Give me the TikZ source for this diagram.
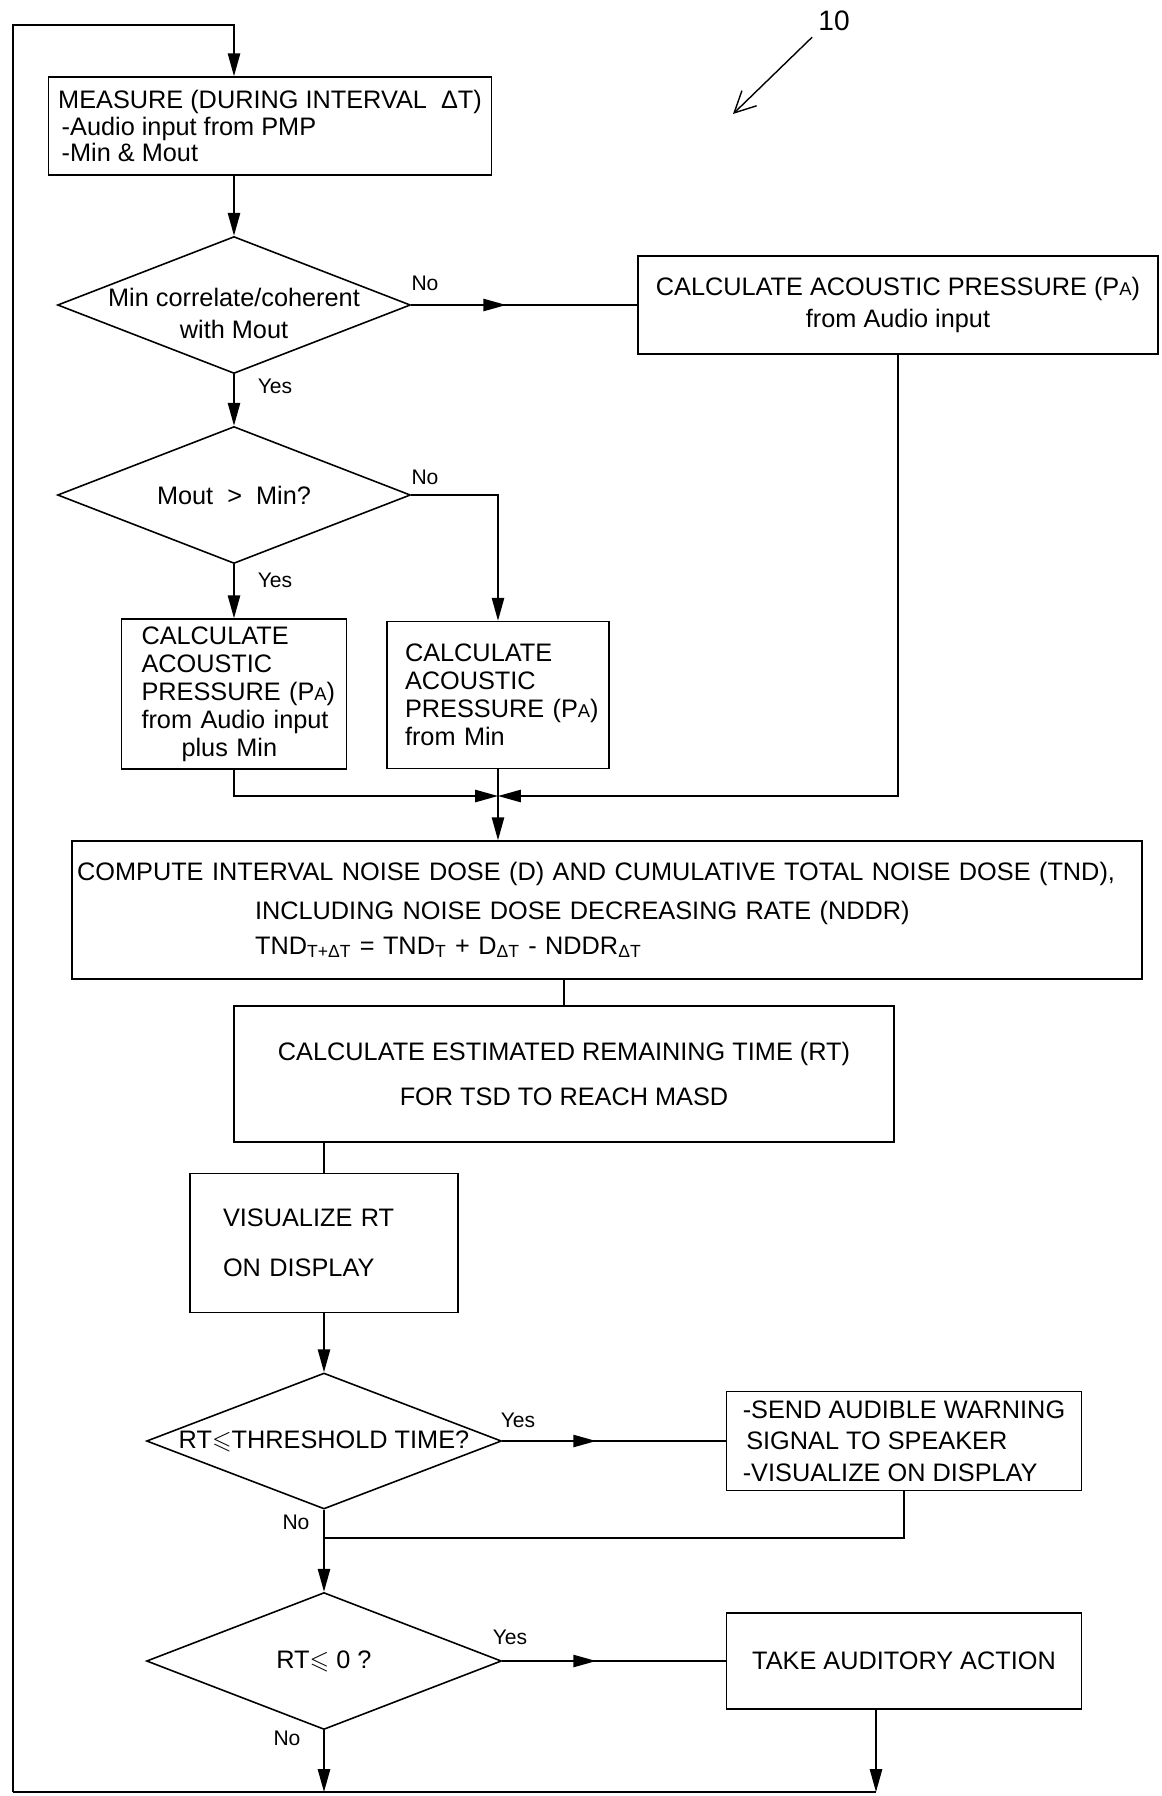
\documentclass[tikz,border=0pt]{standalone}
\usepackage{amsmath, amssymb}
\usepackage{fontspec}
\setmainfont{Liberation Sans}
\usetikzlibrary{arrows.meta}
\usetikzlibrary{shapes.geometric}
\usetikzlibrary{decorations.markings}

\newcommand{\pressA}{(P{\fontsize{10.5}{10.5}\selectfont A})}

\begin{document}
\begin{tikzpicture}[x=0.02cm, y=-0.02cm,
    every node/.style={font=\fontsize{14.4}{16}\selectfont},
    box/.style={draw, line width=0.9pt, inner sep=0pt},
    decision/.style={draw, diamond, aspect=2.6, inner sep=-8pt, line width=0.9pt, align=center},
    line/.style={line width=0.9pt},
    arr/.style={line width=0.9pt, -{Triangle[length=13pt, width=7pt]}},
    midarr/.style={line width=0.9pt, postaction={decorate},
        decoration={markings, mark=at position 0.42 with {\arrow{Triangle[length=13pt, width=7pt]}}}},
    lbl/.style={font=\fontsize{12}{12}\selectfont, inner sep=1pt}]
    \useasboundingbox (0,0) rectangle (1161,1796);

    % measuring and first tests
    \node[box, minimum width=8.86cm, minimum height=1.96cm, align=left,
          font=\fontsize{14.4}{15.3}\selectfont] (measure) at (270,126)
        {MEASURE (DURING INTERVAL\ \ ΔT)\\ \hspace*{2pt}-Audio input from PMP\\ \hspace*{2pt}-Min \& Mout};
    \node[decision, minimum width=7.06cm, minimum height=2.74cm,
          font=\fontsize{14.4}{18}\selectfont] (d1) at (234,305)
        {\rule{0pt}{20pt}Min correlate/coherent\\with Mout};
    \node[box, minimum width=10.4cm, minimum height=1.96cm, align=center,
          font=\fontsize{14.4}{18.7}\selectfont] (calcA) at (898,305)
        {CALCULATE ACOUSTIC PRESSURE \pressA\\from Audio input};
    \node[decision, minimum width=7.06cm, minimum height=2.74cm] (d2) at (234,495)
        {Mout\ \ >\ \ Min?};

    \node[box, minimum width=4.5cm, minimum height=3cm, text width=3.7cm, align=left,
          font=\fontsize{14.4}{15.9}\selectfont] (calcB) at (234,694)
        {CALCULATE\\ACOUSTIC\\\mbox{PRESSURE \pressA}\\\mbox{from Audio input}\\\hspace*{0.8cm}plus Min};
    \node[box, minimum width=4.44cm, minimum height=2.94cm, text width=3.72cm, align=left,
          font=\fontsize{14.4}{15.9}\selectfont] (calcC) at (498,695)
        {CALCULATE\\ACOUSTIC\\\mbox{PRESSURE \pressA}\\from Min};

    % dose
    \node[box, minimum width=21.4cm, minimum height=2.76cm, text width=21.2cm,
          inner xsep=0.1cm, align=left, font=\fontsize{14.4}{20}\selectfont] (compute) at (607,910)
        {\mbox{COMPUTE INTERVAL NOISE DOSE (D) AND CUMULATIVE TOTAL NOISE DOSE (TND),}\\[2pt]
         \hspace*{3.56cm}INCLUDING NOISE DOSE DECREASING RATE (NDDR)\\
         \hspace*{3.56cm}TND\textsubscript{T+ΔT} = TND\textsubscript{T} + D\textsubscript{ΔT} - NDDR\textsubscript{ΔT}};
    \node[box, minimum width=13.2cm, minimum height=2.72cm, align=center,
          font=\fontsize{14.4}{25.5}\selectfont] (calcRT) at (564,1074)
        {CALCULATE ESTIMATED REMAINING TIME (RT)\\FOR TSD TO REACH MASD};
    \node[box, minimum width=5.36cm, minimum height=2.78cm, text width=4.04cm,
          inner xsep=0.66cm, align=left, font=\fontsize{14.4}{28.3}\selectfont] (visual) at (324,1243)
        {VISUALIZE RT\\ON DISPLAY};

    % warnings
    \node[decision, minimum width=7.1cm, minimum height=2.72cm] (d3) at (324,1441)
        {RT$\leqslant$THRESHOLD TIME?};
    \node[box, minimum width=7.1cm, minimum height=1.98cm, align=left,
          font=\fontsize{14.4}{18}\selectfont] (warn) at (904,1441)
        {-SEND AUDIBLE WARNING\\\hspace*{2pt}SIGNAL TO SPEAKER\\-VISUALIZE ON DISPLAY};
    \node[decision, minimum width=7.1cm, minimum height=2.74cm] (d4) at (324,1661)
        {RT$\leqslant$ 0 ?};
    \node[box, minimum width=7.1cm, minimum height=1.92cm] (act) at (904,1661)
        {TAKE AUDITORY ACTION};

    % yes / no
    \node[lbl] (no1) at (425,283) {No};
    \node[lbl] (yes1) at (275,386) {Yes};
    \node[lbl] (no2) at (425,477) {No};
    \node[lbl] (yes2) at (275,580) {Yes};
    \node[lbl] (yes3) at (518,1420) {Yes};
    \node[lbl] (no3) at (296,1522) {No};
    \node[lbl] (yes4) at (510,1637) {Yes};
    \node[lbl] (no4) at (287,1738) {No};

    % reference numeral
    \node[font=\fontsize{16}{16}\selectfont] (ten) at (834,21) {10};
    \coordinate (tenhead) at (733,114);
    \draw[line width=0.8pt, -{Straight Barb[length=12pt, width=12pt]}] (ten.south west) -- (tenhead);

    % helper points
    \coordinate (join) at (498,796);
    \coordinate (merge) at (324,1538);
    \coordinate (loopR) at (876,1792);
    \coordinate (loopM) at (324,1792);
    \coordinate (loopL) at (13,1792);
    \coordinate (loopT) at (13,25);

    % connectors
    \draw[arr] (measure.south -| d1.north) -- (d1.north);
    \draw[midarr] (d1.east) -- (calcA.west);
    \draw[arr] (d1.south) -- (d2.north);
    \draw[arr] (d2.east) -| (calcC.north);
    \draw[arr] (d2.south) -- (calcB.north);
    \draw[arr] (calcB.south) |- (join);
    \draw[arr] (calcA.south) |- (join);
    \draw[arr] (calcC.south) -- (compute.north -| calcC.south);
    \draw[line] (compute.south -| calcRT.north) -- (calcRT.north);
    \draw[line] (calcRT.south -| visual.north) -- (visual.north);
    \draw[arr] (visual.south) -- (d3.north);
    \draw[midarr] (d3.east) -- (warn.west);
    \draw[line] (warn.south) |- (merge);
    \draw[arr] (d3.south) -- (d4.north);
    \draw[midarr] (d4.east) -- (act.west);
    \draw[arr] (d4.south) -- (loopM);
    \draw[arr] (act.south -| loopR) -- (loopR);

    % loop back
    \draw[line] (loopR) -- (loopL);
    \draw[arr] (loopL) -- (loopT) -| (measure.north -| d1.north);
\end{tikzpicture}
\end{document}
